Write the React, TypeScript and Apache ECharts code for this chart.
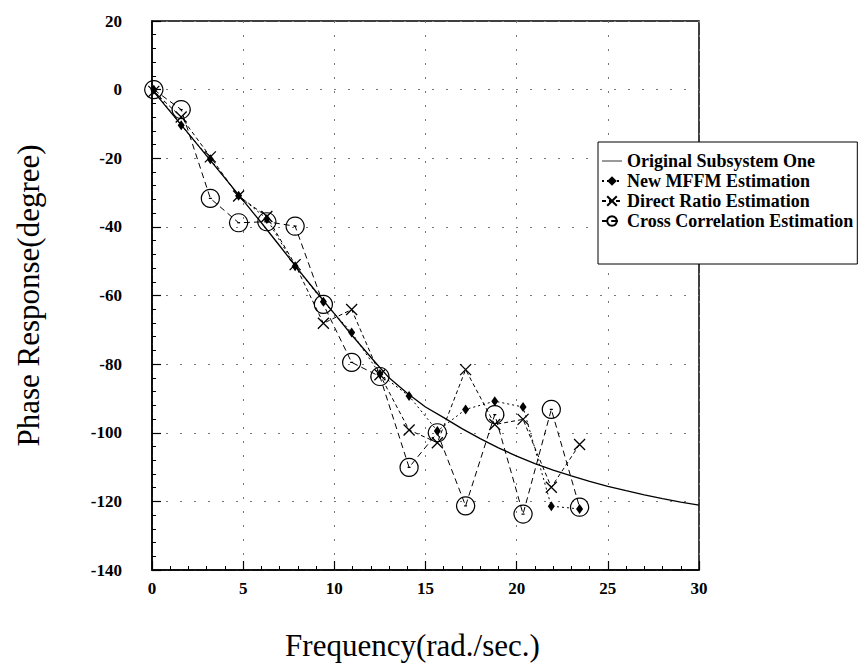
import React, { useEffect, useRef } from "react";
import * as echarts from "echarts";

// Original subsystem phase curve
const origFreq = [0, 1, 2, 3, 4, 5, 6, 7, 8, 9, 10, 11, 12, 13, 14, 15, 16, 17, 18, 19, 20, 21, 22, 23, 24, 25, 26, 27, 28, 29, 30];
const origPhase = [0, -6.4, -12.8, -19.3, -25.8, -32.3, -38.8, -45.5, -52.3, -58.9, -65.3, -71.8, -78, -84, -88.5, -92.5, -95.6, -98.8, -101.7, -104.4, -106.8, -109, -110.9, -112.6, -114.2, -115.6, -116.9, -118.1, -119.2, -120.2, -121.1];

// Estimation sample frequencies
const sampleFreq = [0.1, 1.6, 3.2, 4.75, 6.3, 7.85, 9.4, 10.95, 12.5, 14.1, 15.65, 17.2, 18.8, 20.35, 21.9, 23.45];
const mffmPhase = [0, -10.4, -20.3, -30.9, -37.7, -51.5, -61.8, -70.8, -82.9, -89.3, -99.5, -93.2, -90.8, -92.5, -121.4, -122.2];
const directPhase = [-0.5, -8, -19.6, -31, -37, -51, -68.1, -64.1, -83.1, -99.2, -102.9, -81.6, -97.6, -96.1, -115.9, -103.4];
const crossPhase = [0, -5.8, -31.7, -38.8, -38.5, -39.8, -62.6, -79.5, -83.6, -110.1, -100, -121.3, -94.7, -123.7, -93.2, -121.7];

const seriesNames = ["Original Subsystem One", "New MFFM Estimation", "Direct Ratio Estimation", "Cross Correlation Estimation"];
const xTitle = "Frequency(rad./sec.)";
const yTitle = "Phase Response(degree)";

const FONT = "'Liberation Serif', 'Times New Roman', serif";

const pair = (xs: number[], ys: number[]) => xs.map((x, i) => [x, ys[i]]);

export default function App() {
  const ref = useRef<HTMLDivElement>(null);
  useEffect(() => {
    if (!ref.current) return;
    const chart = echarts.init(ref.current, null, { renderer: "svg" });
    const gridLine = { show: true, lineStyle: { color: "#777", width: 1, type: [2, 12] as any } };
    chart.setOption({
      animation: false,
      backgroundColor: "#fff",
      grid: { left: 152, right: 165, top: 21, bottom: 93, show: true, borderColor: "#000", borderWidth: 1.5, backgroundColor: "transparent" },
      legend: {
        orient: "vertical",
        left: 598,
        top: 142,
        backgroundColor: "#fff",
        borderColor: "#000",
        borderWidth: 1,
        padding: [10, 4, 34, 3],
        itemWidth: 20,
        itemHeight: 12,
        itemGap: 2,
        textStyle: { fontFamily: FONT, fontSize: 18, fontWeight: "bold", color: "#000" },
        data: [
          { name: seriesNames[0], icon: "path://M0,4.4L30,4.4L30,5.6L0,5.6Z" },
          seriesNames[1],
          seriesNames[2],
          seriesNames[3],
        ],
      },
      xAxis: {
        type: "value",
        min: 0,
        max: 30,
        interval: 5,
        name: xTitle,
        nameLocation: "middle",
        nameGap: 60,
        nameTextStyle: { fontFamily: FONT, fontSize: 31, color: "#000", padding: [0, 26, 0, 0] },
        axisLine: { show: true, onZero: false, lineStyle: { color: "#000", width: 1.5 } },
        axisTick: { show: true, inside: true, length: 9, lineStyle: { color: "#000", width: 1.2 } },
        minorTick: { show: true, splitNumber: 5, length: 4, lineStyle: { color: "#000", width: 1 } },
        axisLabel: { fontFamily: FONT, fontSize: 17, fontWeight: "bold", color: "#000", margin: 10 },
        splitLine: gridLine,
      },
      yAxis: {
        type: "value",
        min: -140,
        max: 20,
        interval: 20,
        name: yTitle,
        nameLocation: "middle",
        nameGap: 108,
        nameRotate: 90,
        nameTextStyle: { fontFamily: FONT, fontSize: 31, color: "#000" },
        axisLine: { show: true, onZero: false, lineStyle: { color: "#000", width: 1.5 } },
        axisTick: { show: true, inside: true, length: 9, lineStyle: { color: "#000", width: 1.2 } },
        minorTick: { show: true, splitNumber: 5, length: 4, lineStyle: { color: "#000", width: 1 } },
        axisLabel: { fontFamily: FONT, fontSize: 17, fontWeight: "bold", color: "#000", margin: 30 },
        splitLine: gridLine,
      },
      series: [
        {
          name: seriesNames[0],
          type: "line",
          data: pair(origFreq, origPhase),
          showSymbol: false,
          symbol: "none",
          color: "#000",
          lineStyle: { color: "#000", width: 1.3, type: "solid" },
          z: 5,
        },
        {
          name: seriesNames[1],
          type: "line",
          data: pair(sampleFreq, mffmPhase),
          symbol: "diamond",
          symbolSize: [7, 10],
          color: "#000",
          itemStyle: { color: "#000", borderColor: "#000", borderWidth: 0 },
          lineStyle: { color: "#000", width: 1, type: [2, 3] },
          z: 4,
        },
        {
          name: seriesNames[2],
          type: "line",
          data: pair(sampleFreq, directPhase),
          symbol: "path://M0,0L10,10M10,0L0,10",
          symbolSize: 11,
          color: "#000",
          itemStyle: { color: "rgba(0,0,0,0)", borderColor: "#000", borderWidth: 1.3 },
          lineStyle: { color: "#000", width: 1, type: [4, 3] },
          z: 3,
        },
        {
          name: seriesNames[3],
          type: "line",
          data: pair(sampleFreq, crossPhase),
          symbol: "path://M20,2A18,18 0 1 1 19.99,2ZM17,20L23,20",
          symbolSize: 18,
          color: "#000",
          itemStyle: { color: "rgba(0,0,0,0)", borderColor: "#000", borderWidth: 1.2 },
          lineStyle: { color: "#000", width: 1, type: [6, 4] },
          z: 2,
        },
      ],
    });
    return () => chart.dispose();
  }, []);
  return (
    <div
      ref={ref}
      style={{ position: "absolute", left: 0, top: 0, width: 864, height: 666, background: "#fff" }}
    />
  );
}
